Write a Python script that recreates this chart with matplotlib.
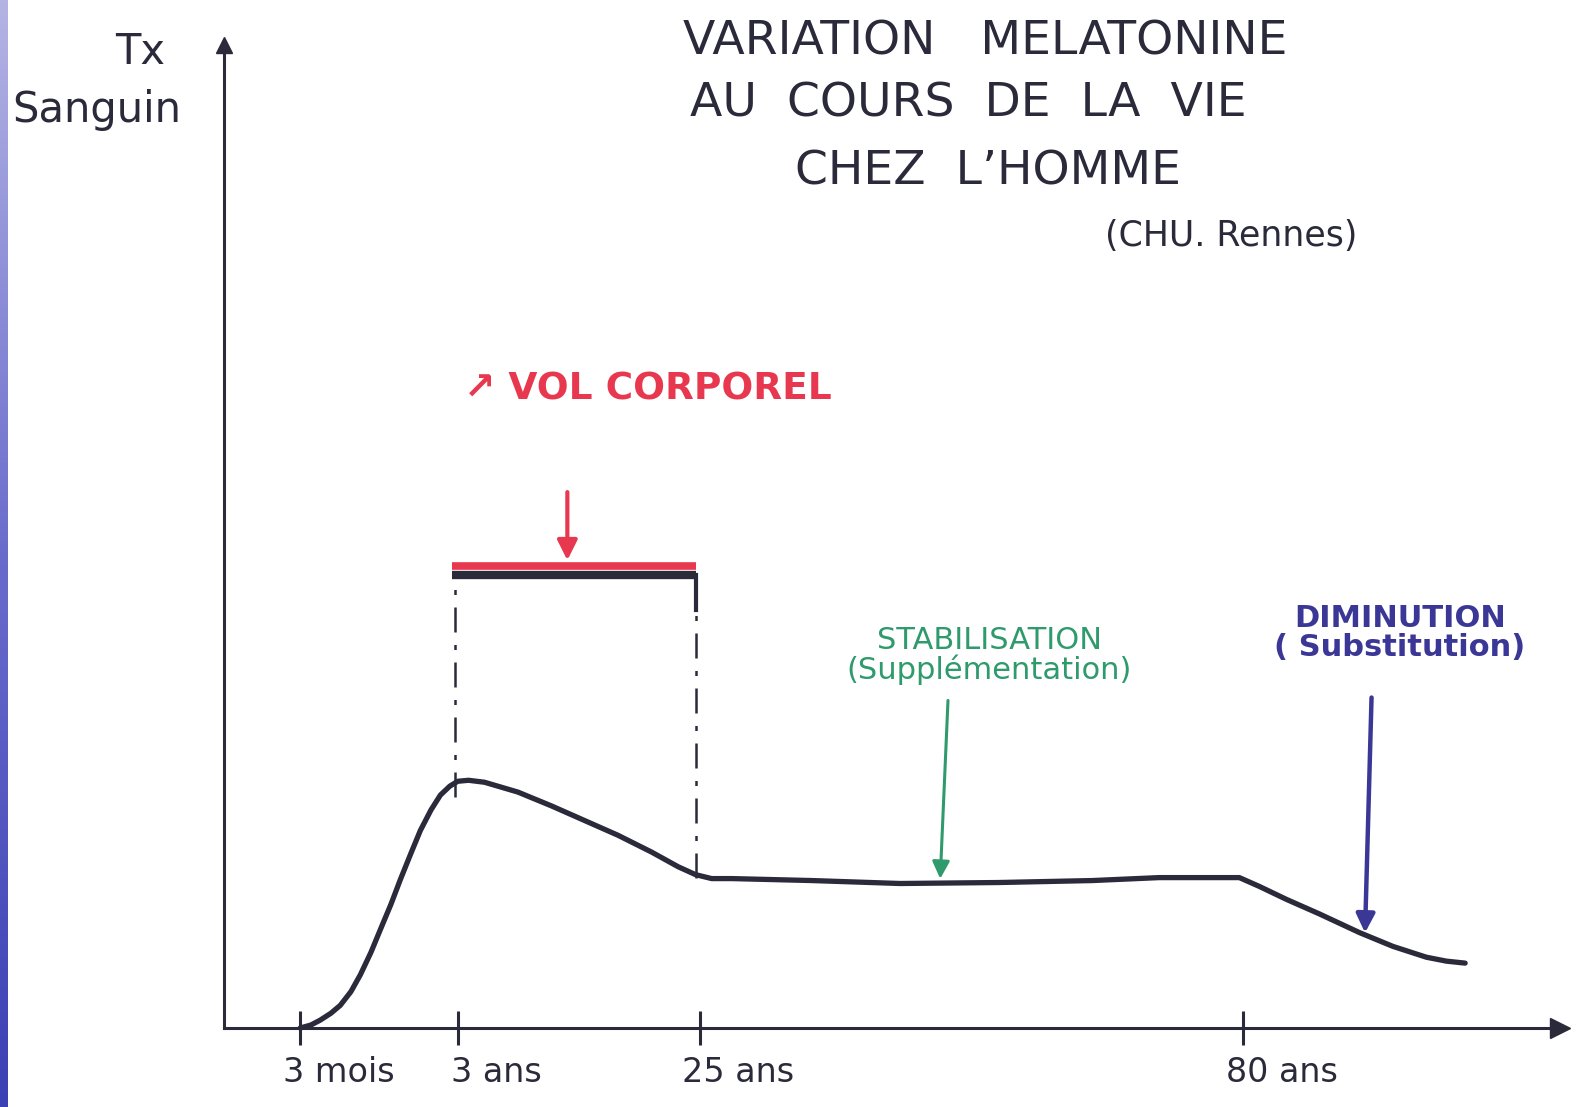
import matplotlib.pyplot as plt
import numpy as np
from matplotlib.colors import LinearSegmentedColormap

# axis positions (0-100 along the drawn x axis) and blood level (0-100)
age_pos = [5.7, 6.5, 7.2, 8.0, 8.7, 9.5, 10.2, 11.0, 11.7, 12.5, 13.2, 14.0,
           14.7, 15.5, 16.2, 16.9, 17.5, 18.3, 19.5, 20.5,
           22.0, 24.5, 27.0, 29.5, 32.0, 34.0, 35.3, 36.5, 38.0,
           44.0, 50.6, 58.0, 65.0, 70.0, 76.0,
           77.5, 79.5, 82.0, 85.0, 87.5, 90.0, 91.5, 92.9]
level = [0.0, 0.3, 0.8, 1.5, 2.3, 3.7, 5.4, 7.7, 10.0, 12.6, 15.1, 17.8,
         20.1, 22.2, 23.7, 24.6, 25.1, 25.2, 25.0, 24.6,
         24.0, 22.6, 21.1, 19.6, 17.9, 16.4, 15.6, 15.2, 15.2,
         15.0, 14.7, 14.8, 15.0, 15.3, 15.3,
         14.4, 13.1, 11.6, 9.7, 8.3, 7.2, 6.8, 6.6]

tick_pos = [5.7, 17.5, 35.6, 76.3]
tick_labels = ["3 mois", "3 ans", "25 ans", "80 ans"]

bar_start, bar_end = 17.1, 35.3
bar_black = 46.1
bar_red = 47.0

ink = '#2a2a3a'
red = '#e8384f'
green = '#2f9a6c'
purple = '#3b3796'

fig = plt.figure(figsize=(15.9, 11.07), dpi=100)
fig.patch.set_facecolor('white')

# blue strip on the left edge
strip = fig.add_axes([0, 0, 8 / 1590, 1])
grad = np.linspace(0, 1, 256).reshape(-1, 1)
cm = LinearSegmentedColormap.from_list('strip', ['#b4b4e4', '#6a6ccc', '#3b40b4'])
strip.imshow(grad, aspect='auto', cmap=cm)
strip.axis('off')

ax = fig.add_axes([224 / 1590, (1107 - 1028) / 1107, 1336 / 1590, 983 / 1107])
ax.set_xlim(0, 100)
ax.set_ylim(0, 100)
for s in ['top', 'right']:
    ax.spines[s].set_visible(False)
for s in ['left', 'bottom']:
    ax.spines[s].set_color(ink)
    ax.spines[s].set_linewidth(2.2)
ax.plot(1, 0, '>', color=ink, ms=14, transform=ax.transAxes, clip_on=False)
ax.plot(0, 1, '^', color=ink, ms=12, transform=ax.transAxes, clip_on=False)

ax.set_yticks([])
ax.set_xticks(tick_pos)
ax.set_xticklabels([])
ax.tick_params(axis='x', direction='inout', length=24, width=2.2, color=ink)
for p, lab in zip(tick_pos, tick_labels):
    ax.annotate(lab, (p, 0), xytext=(28, -32), textcoords='offset points',
                ha='center', va='center', fontsize=24, color=ink)

# curve
ax.plot(age_pos, level, color=ink, lw=3.8, solid_capstyle='round',
        solid_joinstyle='round', clip_on=False)

# dash-dot guides and the bar
ax.vlines([bar_start + 0.2], 23.5, bar_black, colors=ink, lw=1.8, linestyles=[(0, (10, 5, 2, 5))])
ax.vlines([bar_end], 15.3, bar_black, colors=ink, lw=1.8, linestyles=[(0, (10, 5, 2, 5))])
ax.plot([bar_start, bar_end], [bar_black, bar_black], color=ink, lw=6, solid_capstyle='butt')
ax.plot([bar_start, bar_end], [bar_red, bar_red], color=red, lw=5.5, solid_capstyle='butt')
ax.plot([bar_end, bar_end], [bar_black, 42.5], color=ink, lw=3)

# arrows
ax.annotate('', xy=(25.7, 47.3), xytext=(25.7, 54.8),
            arrowprops=dict(arrowstyle='-|>', color=red, lw=3, mutation_scale=30))
ax.annotate('', xy=(53.6, 14.9), xytext=(54.2, 33.6),
            arrowprops=dict(arrowstyle='-|>', color=green, lw=2.2, mutation_scale=26))
ax.annotate('', xy=(85.4, 9.4), xytext=(85.9, 33.9),
            arrowprops=dict(arrowstyle='-|>', color=purple, lw=3.2, mutation_scale=28))

# texts
ax.text(18.0, 65.0, '\u2197 VOL CORPOREL', color=red, fontsize=27, fontweight='bold',
        ha='left', va='center')
ax.text(57.3, 37.9, 'STABILISATION\n(Supplémentation)', color=green, fontsize=22,
        ha='center', va='center', linespacing=1.0)
ax.text(88.0, 40.2, 'DIMINUTION\n( Substitution)', color=purple, fontsize=22,
        fontweight='bold', ha='center', va='center', linespacing=1.0)

fig.text(115 / 1590, 1 - 52 / 1107, 'Tx', fontsize=30, color=ink, ha='left', va='center')
fig.text(12 / 1590, 1 - 110 / 1107, 'Sanguin', fontsize=30, color=ink, ha='left', va='center')

fig.text(683 / 1590, 1 - 42 / 1107, 'VARIATION   MELATONINE', fontsize=34, color=ink,
         ha='left', va='center')
fig.text(690 / 1590, 1 - 104 / 1107, 'AU  COURS  DE  LA  VIE', fontsize=34, color=ink,
         ha='left', va='center')
fig.text(795 / 1590, 1 - 172 / 1107, 'CHEZ  L\u2019HOMME', fontsize=34, color=ink,
         ha='left', va='center')
fig.text(1105 / 1590, 1 - 236 / 1107, '(CHU. Rennes)', fontsize=25, color=ink,
         ha='left', va='center')

fig.savefig('out.png', dpi=100, facecolor='white')
